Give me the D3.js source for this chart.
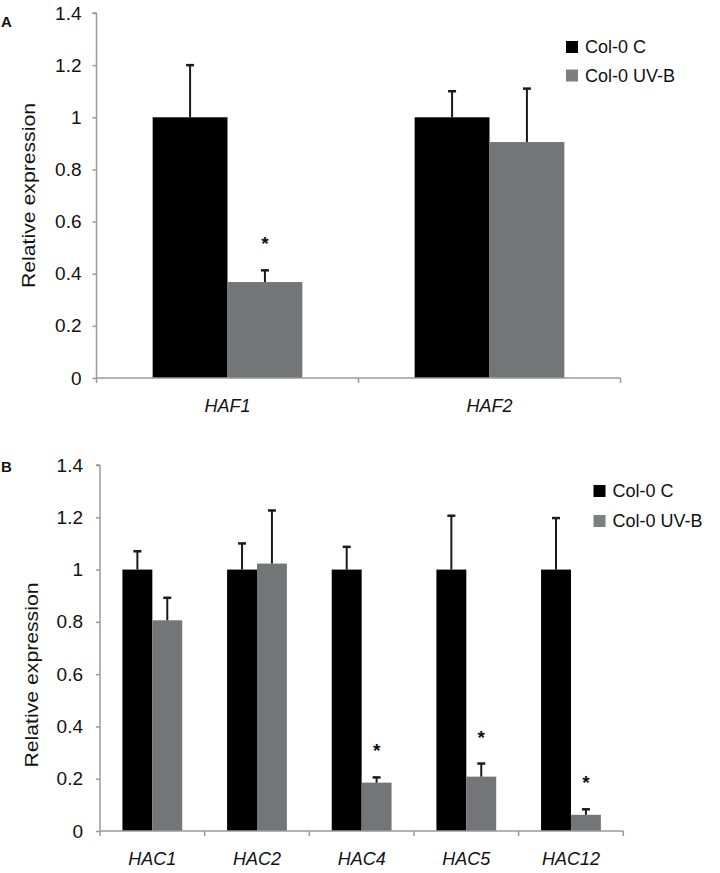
<!DOCTYPE html>
<html>
<head>
<meta charset="utf-8">
<script src="https://cdn.jsdelivr.net/npm/d3@7/dist/d3.min.js"></script>
<style>
	body { margin: 0; background: #fff; }
	svg { display: block; font-family: "Liberation Sans", Arial, sans-serif; }
</style>
</head>
<body>
<div id="mainWrapper"><svg width="720" height="873"></svg></div>
<script>
// データ
var seriesNames = ["Col-0 C", "Col-0 UV-B"];
var seriesColors = ["#000000", "#737677"];
var yTicks = [0, 0.2, 0.4, 0.6, 0.8, 1, 1.2, 1.4];

// パネルA
var genesA = ["HAF1", "HAF2"];
var ctrlA = [1, 1];
var ctrlErrA = [0.20, 0.10];
var uvA = [0.368, 0.905];
var uvErrA = [0.045, 0.205];
var sigA = [true, false];

// パネルB
var genesB = ["HAC1", "HAC2", "HAC4", "HAC5", "HAC12"];
var ctrlB = [1, 1, 1, 1, 1];
var ctrlErrB = [0.07, 0.10, 0.087, 0.206, 0.197];
var uvB = [0.806, 1.023, 0.185, 0.208, 0.062];
var uvErrB = [0.086, 0.203, 0.02, 0.05, 0.021];
var sigB = [false, false, true, true, true];

var svg = d3.select("#mainWrapper>svg");

function drawPanel(opt) {
	var g = svg.append("g");

	var x = d3.scaleBand()
		.domain(opt.genes)
		.range([opt.left, opt.right])
		.padding(0);
	var barW = x.step() / 3.5;

	var y = d3.scaleLinear()
		.domain([0, 1.4])
		.range([opt.bottom, opt.top]);

	// 棒
	var rows = opt.genes.map(function(d, i){
		return {
			gene: d,
			vals: [
				{s: 0, v: opt.ctrl[i], e: opt.ctrlErr[i]},
				{s: 1, v: opt.uv[i], e: opt.uvErr[i], sig: opt.sig[i]}
			]
		};
	});

	var grp = g.selectAll("g.grp")
		.data(rows)
		.enter()
		.append("g")
		.attr("class", "grp")
		.attr("transform", function(d){
			return "translate(" + (x(d.gene) + x.bandwidth() / 2) + ",0)";
		});

	var bar = grp.selectAll("g.bar")
		.data(function(d){ return d.vals; })
		.enter()
		.append("g")
		.attr("class", "bar");

	bar.append("rect")
		.attr("x", function(d){ return d.s === 0 ? -barW : 0; })
		.attr("y", function(d){ return y(d.v); })
		.attr("width", barW)
		.attr("height", function(d){ return y(0) - y(d.v); })
		.attr("fill", function(d){ return seriesColors[d.s]; });

	// エラーバー
	var cx = function(d){ return d.s === 0 ? -barW / 2 : barW / 2; };
	bar.append("line")
		.attr("x1", cx).attr("x2", cx)
		.attr("y1", function(d){ return y(d.v); })
		.attr("y2", function(d){ return y(d.v + d.e); })
		.attr("stroke", "#1a1a1a")
		.attr("stroke-width", 2);
	bar.append("line")
		.attr("x1", function(d){ return cx(d) - 4; })
		.attr("x2", function(d){ return cx(d) + 4; })
		.attr("y1", function(d){ return y(d.v + d.e); })
		.attr("y2", function(d){ return y(d.v + d.e); })
		.attr("stroke", "#1a1a1a")
		.attr("stroke-width", 2.5);

	// 有意差
	bar.filter(function(d){ return d.sig; })
		.append("text")
		.attr("x", cx)
		.attr("y", function(d){ return y(d.v + d.e) - 20; })
		.attr("text-anchor", "middle")
		.attr("font-size", "19px")
		.attr("font-weight", "bold")
		.attr("fill", "#111")
		.text("*");

	// Y軸
	var yAxis = g.append("g")
		.attr("transform", "translate(" + opt.left + ",0)")
		.call(d3.axisLeft(y)
			.tickValues(yTicks)
			.tickFormat(d3.format("~g"))
			.tickSize(4)
			.tickPadding(opt.tickPad));
	yAxis.selectAll("path, line").attr("stroke", "#9a9a9a").attr("stroke-width", 1.5);
	yAxis.selectAll("text").attr("font-size", "19px").attr("fill", "#111")
		.attr("font-family", "'Liberation Sans', Arial, sans-serif");
	yAxis.select("path").attr("d", "M0," + y(0) + "V" + y(1.4) + "M-4," + y(1.4) + "H0");

	// X軸
	var xAxis = g.append("g")
		.attr("transform", "translate(0," + y(0) + ")");
	xAxis.append("line")
		.attr("x1", opt.left).attr("x2", opt.right)
		.attr("stroke", "#9a9a9a").attr("stroke-width", 1.5);
	var bounds = opt.genes.map(function(d){ return x(d); }).concat([x.range()[1]]);
	xAxis.selectAll("line.tick")
		.data(bounds)
		.enter()
		.append("line")
		.attr("class", "tick")
		.attr("x1", function(d){ return d; })
		.attr("x2", function(d){ return d; })
		.attr("y1", 0).attr("y2", 5)
		.attr("stroke", "#9a9a9a").attr("stroke-width", 1.5);
	xAxis.selectAll("text")
		.data(opt.genes)
		.enter()
		.append("text")
		.attr("x", function(d){ return x(d) + x.bandwidth() / 2; })
		.attr("y", 34)
		.attr("text-anchor", "middle")
		.attr("font-size", "18px")
		.attr("font-style", "italic")
		.attr("fill", "#111")
		.text(function(d){ return d; });

	// 軸タイトル
	var midY = (y(0) + y(1.4)) / 2 + opt.titleShift;
	g.append("text")
		.attr("transform", "translate(" + opt.titleX + "," + midY + ") rotate(-90)")
		.attr("text-anchor", "middle")
		.attr("font-size", "19px")
		.attr("fill", "#111")
		.attr("textLength", 185)
		.attr("lengthAdjust", "spacingAndGlyphs")
		.text("Relative expression");

	// パネル記号
	g.append("text")
		.attr("x", 1)
		.attr("y", opt.labelY)
		.attr("font-size", "15px")
		.attr("font-weight", "bold")
		.attr("fill", "#111")
		.text(opt.label);

	// 凡例
	var leg = g.selectAll("g.leg")
		.data(seriesNames)
		.enter()
		.append("g")
		.attr("class", "leg")
		.attr("transform", function(d, i){
			return "translate(" + opt.legX + "," + (opt.legY + i * opt.legStep) + ")";
		});
	leg.append("rect")
		.attr("x", 0).attr("y", -12)
		.attr("width", 12).attr("height", 12)
		.attr("fill", function(d, i){ return i === 0 ? seriesColors[0] : "#7d8081"; });
	leg.append("text")
		.attr("x", 19)
		.attr("y", 0)
		.attr("font-size", "18px")
		.attr("fill", "#111")
		.text(function(d){ return d; });
}

drawPanel({
	label: "A", labelY: 27,
	genes: genesA, ctrl: ctrlA, ctrlErr: ctrlErrA, uv: uvA, uvErr: uvErrA, sig: sigA,
	left: 96.5, right: 620.5, top: 13, bottom: 378,
	tickPad: 11, titleX: 35, titleShift: 0,
	legX: 566, legY: 53, legStep: 28.5
});

drawPanel({
	label: "B", labelY: 472,
	genes: genesB, ctrl: ctrlB, ctrlErr: ctrlErrB, uv: uvB, uvErr: uvErrB, sig: sigB,
	left: 100, right: 623.3, top: 465, bottom: 831,
	tickPad: 13, titleX: 38, titleShift: 27,
	legX: 593.5, legY: 497, legStep: 30
});
</script>
</body>
</html>
